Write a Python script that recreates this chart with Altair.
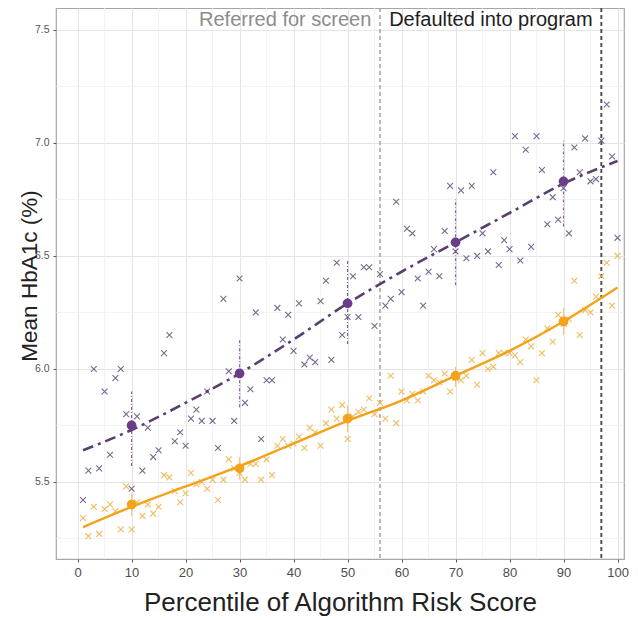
import altair as alt
import pandas as pd

# ---------------- data ----------------
pct = list(range(1, 101))

purple_hba1c = [
    5.42, 5.55, 6.00, 5.56, 5.90, 5.62, 5.96, 6.00, 5.80, 5.47,
    5.79, 5.55, 5.74, 5.61, 5.64, 6.07, 6.15, 5.68, 5.72, 5.66,
    5.78, 5.82, 5.77, 5.90, 5.77, 5.65, 6.31, 5.99, 5.77, 6.40,
    5.85, 5.91, 6.25, 5.69, 5.95, 5.95, 6.27, 6.13, 6.24, 6.08,
    6.29, 6.02, 6.05, 6.03, 6.30, 6.39, 6.04, 6.47, 6.15, 6.23,
    6.41, 6.23, 6.45, 6.45, 6.19, 6.42, 6.28, 6.31, 6.74, 6.34,
    6.62, 6.60, 6.40, 6.28, 6.43, 6.53, 6.41, 6.61, 6.81, 6.52,
    6.79, 6.49, 6.81, 6.50, 6.60, 6.52, 6.87, 6.46, 6.57, 6.53,
    7.03, 6.48, 6.97, 6.54, 7.03, 6.88, 6.64, 6.76, 6.66, 6.80,
    6.60, 6.98, 6.87, 7.02, 6.83, 6.84, 7.01, 7.17, 6.94, 6.58,
]

orange_hba1c = [
    5.34, 5.26, 5.39, 5.27, 5.38, 5.40, 5.37, 5.29, 5.48, 5.29,
    5.41, 5.35, 5.40, 5.36, 5.39, 5.53, 5.52, 5.46, 5.41, 5.45,
    5.54, 5.49, 5.50, 5.47, 5.51, 5.42, 5.51, 5.60, 5.56, 5.54,
    5.51, 5.58, 5.58, 5.51, 5.60, 5.53, 5.66, 5.69, 5.66, 5.67,
    5.70, 5.65, 5.74, 5.72, 5.66, 5.76, 5.82, 5.78, 5.84, 5.69,
    5.79, 5.81, 5.82, 5.87, 5.80, 5.85, 5.78, 5.97, 5.76, 5.90,
    5.86, 5.89, 5.86, 5.90, 5.97, 5.95, 5.94, 5.98, 5.90, 5.96,
    5.95, 5.97, 6.04, 5.93, 6.07, 6.00, 6.01, 6.07, 6.07, 6.07,
    6.06, 6.03, 6.13, 6.10, 5.95, 6.07, 6.18, 6.12, 6.24, 6.20,
    6.22, 6.39, 6.15, 6.26, 6.25, 6.32, 6.41, 6.47, 6.28, 6.50,
]

bin_x = [10, 30, 50, 70, 90]
purple_mean = [5.75, 5.98, 6.29, 6.56, 6.83]
purple_lo = [5.57, 5.83, 6.11, 6.37, 6.63]
purple_hi = [5.90, 6.13, 6.48, 6.75, 7.01]
orange_mean = [5.40, 5.56, 5.78, 5.97, 6.21]
orange_lo = [5.35, 5.51, 5.72, 5.92, 6.15]
orange_hi = [5.45, 5.61, 5.84, 6.01, 6.27]

fit_x = [1, 10, 20, 30, 40, 50, 60, 70, 80, 90, 100]
purple_fit = [5.64, 5.73, 5.85, 5.98, 6.13, 6.29, 6.43, 6.56, 6.69, 6.82, 6.92]
orange_fit = [5.30, 5.39, 5.48, 5.57, 5.67, 5.77, 5.86, 5.97, 6.08, 6.21, 6.36]

x_ticks = [0, 10, 20, 30, 40, 50, 60, 70, 80, 90, 100]
x_minor = [5, 15, 25, 35, 45, 55, 65, 75, 85, 95]
y_ticks = [5.5, 6.0, 6.5, 7.0, 7.5]
y_minor = [5.25, 5.75, 6.25, 6.75, 7.25]

cut_referred = 56
cut_default = 97
label_referred = "Referred for screen"
label_default = "Defaulted into program"

# ---------------- styling ----------------
FONT = "Liberation Sans"
PURPLE = "#6a3d86"
PURPLE_X = "#6b5a82"
PURPLE_LINE = "#5a3f6e"
ORANGE = "#f2a21b"
ORANGE_X = "#eeb246"

W, H = 568, 551
xs = alt.Scale(domain=[-4, 101.2], nice=False, zero=False)
ys = alt.Scale(domain=[5.159, 7.597], nice=False, zero=False)

x_axis = alt.Axis(values=x_ticks, title="Percentile of Algorithm Risk Score",
                  grid=True, gridColor="#e4e4e4", gridWidth=1,
                  domain=False, ticks=True, tickSize=3, tickColor="#555",
                  labelFontSize=13, labelColor="#4d4d4d", labelFont=FONT, labelPadding=4,
                  titleFont=FONT, titleFontSize=26, titleFontWeight="normal", titleColor="#222",
                  titleY=51, titleBaseline="alphabetic")
y_axis = alt.Axis(values=y_ticks, format=".1f", title="Mean HbA1c (%)",
                  grid=True, gridColor="#e4e4e4", gridWidth=1,
                  domain=False, ticks=True, tickSize=3, tickColor="#555",
                  labelFontSize=10.5, labelColor="#555555", labelFont=FONT, labelPadding=4,
                  titleFont=FONT, titleFontSize=22.5, titleFontWeight="normal", titleColor="#222",
                  titleX=-20, titleY=H / 2 - 8, titleBaseline="alphabetic", titleAngle=-90)


def X(field):
    return alt.X(f"{field}:Q", scale=xs, axis=x_axis)


def Y(field):
    return alt.Y(f"{field}:Q", scale=ys, axis=y_axis)


# ---------------- tables ----------------
pts = pd.DataFrame({
    "x": pct + pct,
    "y": purple_hba1c + orange_hba1c,
    "grp": ["purple"] * len(pct) + ["orange"] * len(pct),
})
bins = pd.DataFrame({"x": bin_x, "pm": purple_mean, "plo": purple_lo, "phi": purple_hi,
                     "om": orange_mean, "olo": orange_lo, "ohi": orange_hi})
fits = pd.DataFrame({"x": fit_x, "pf": purple_fit, "of": orange_fit})
xminor_df = pd.DataFrame({"x": x_minor})
yminor_df = pd.DataFrame({"y": y_minor})
cuts = pd.DataFrame({"x": [cut_referred, cut_default]})
labels = pd.DataFrame({"x": [cut_referred - 1.6, cut_referred + 1.7],
                       "y": [7.545, 7.545],
                       "t": [label_referred, label_default]})

# ---------------- layers ----------------
minor_x = alt.Chart(xminor_df).mark_rule(color="#efefef", strokeWidth=0.8).encode(x=X("x"))
minor_y = alt.Chart(yminor_df).mark_rule(color="#efefef", strokeWidth=0.8).encode(y=Y("y"))

cut1 = alt.Chart(cuts.iloc[[0]]).mark_rule(color="#a8a8a8", strokeWidth=1.6,
                                           strokeDash=[4, 3]).encode(x=X("x"))
cut2 = alt.Chart(cuts.iloc[[1]]).mark_rule(color="#555555", strokeWidth=2,
                                           strokeDash=[4, 3]).encode(x=X("x"))

XPATH = "M-1,-1L1,1M-1,1L1,-1"
purple_pts = alt.Chart(pts[pts.grp == "purple"]).mark_point(
    shape=XPATH, size=34, filled=False, color=PURPLE_X, strokeWidth=1.1, opacity=0.9
).encode(x=X("x"), y=Y("y"))
orange_pts = alt.Chart(pts[pts.grp == "orange"]).mark_point(
    shape=XPATH, size=34, filled=False, color=ORANGE_X, strokeWidth=1.1, opacity=0.85
).encode(x=X("x"), y=Y("y"))

purple_err = alt.Chart(bins).mark_rule(color=PURPLE, strokeWidth=1.2, strokeDash=[3, 2, 1, 2],
                                       opacity=0.8).encode(x=X("x"), y=Y("plo"), y2="phi")
orange_err = alt.Chart(bins).mark_rule(color=ORANGE, strokeWidth=1.2, opacity=0.6).encode(
    x=X("x"), y=Y("olo"), y2="ohi")

purple_line = alt.Chart(fits).mark_line(color=PURPLE_LINE, strokeWidth=2.6,
                                        strokeDash=[11, 5, 3, 5],
                                        interpolate="monotone").encode(x=X("x"), y=Y("pf"))
orange_line = alt.Chart(fits).mark_line(color=ORANGE, strokeWidth=2.4,
                                        interpolate="monotone").encode(x=X("x"), y=Y("of"))

purple_big = alt.Chart(bins).mark_circle(color=PURPLE, size=95, opacity=1).encode(
    x=X("x"), y=Y("pm"))
orange_big = alt.Chart(bins).mark_circle(color=ORANGE, size=95, opacity=1).encode(
    x=X("x"), y=Y("om"))

text_ref = alt.Chart(labels.iloc[[0]]).mark_text(
    align="right", baseline="middle", font=FONT, fontSize=20, color="#8c8c8c"
).encode(x=X("x"), y=Y("y"), text="t:N")
text_def = alt.Chart(labels.iloc[[1]]).mark_text(
    align="left", baseline="middle", font=FONT, fontSize=20, color="#1e1e1e"
).encode(x=X("x"), y=Y("y"), text="t:N")

chart = alt.layer(
    minor_x, minor_y, cut1, cut2,
    orange_pts, purple_pts,
    purple_err, orange_err,
    orange_line, purple_line,
    orange_big, purple_big,
    text_ref, text_def,
).properties(
    width=W, height=H,
    autosize=alt.AutoSizeParams(type="none"),
    padding={"left": 48, "top": 0, "right": 6, "bottom": 61},
    background="white",
).configure_view(stroke="#a6a6a6", strokeWidth=1.2)

chart.save("out.html", embed_options={"renderer": "svg", "actions": False})
